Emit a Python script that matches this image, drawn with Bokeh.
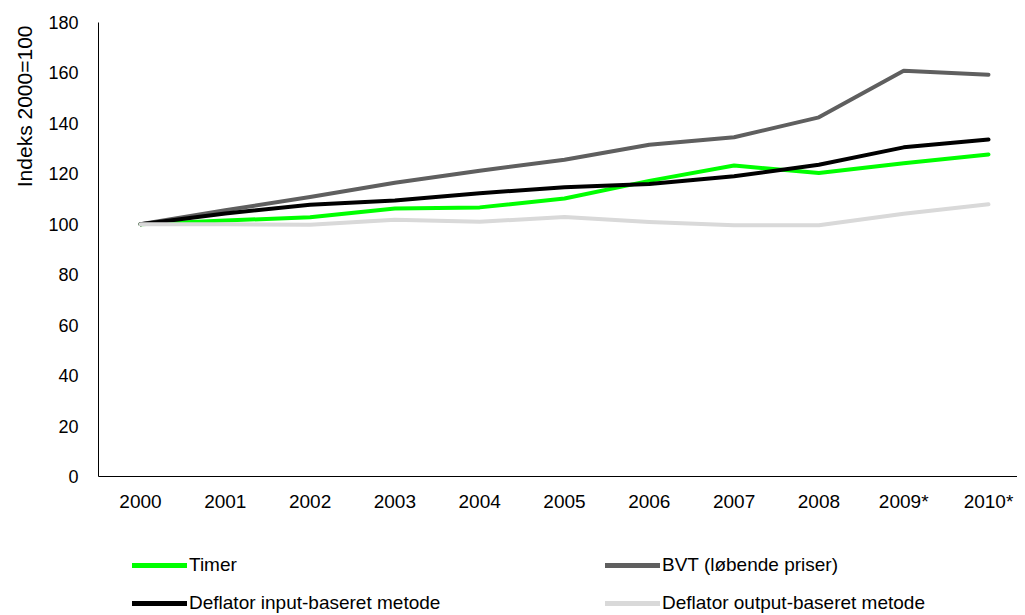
from bokeh.plotting import figure
from bokeh.models import (Range1d, FixedTicker, Legend, LegendItem, Title)
from bokeh.layouts import column
from bokeh.embed import file_html
from bokeh.resources import INLINE

years = ["2000", "2001", "2002", "2003", "2004", "2005", "2006", "2007", "2008", "2009*", "2010*"]
timer = [100, 101.5, 102.8, 106.3, 106.7, 110.2, 117.2, 123.3, 120.3, 124.2, 127.7]
bvt = [100, 105.6, 110.8, 116.5, 121.2, 125.6, 131.5, 134.5, 142.4, 160.9, 159.3]
defl_input = [100, 104.3, 107.7, 109.4, 112.3, 114.7, 116.0, 119.0, 123.6, 130.5, 133.6]
defl_output = [100, 100.0, 99.8, 101.8, 101.0, 102.9, 100.9, 99.6, 99.6, 104.2, 107.9]
series_names = ["Timer", "BVT (løbende priser)", "Deflator input-baseret metode", "Deflator output-baseret metode"]
colors = ["#00ff00", "#5f5f5f", "#000000", "#d9d9d9"]
y_ticks = [0, 20, 40, 60, 80, 100, 120, 140, 160, 180]

FONT = "Liberation Sans"
xs = list(range(len(years)))
W = 1017

p = figure(width=W, height=514, output_backend="svg", toolbar_location=None,
           x_range=Range1d(-0.495, 10.342), y_range=Range1d(0, 180),
           min_border_left=98, min_border_right=0, min_border_top=22, min_border_bottom=38)
p.outline_line_color = None
p.xgrid.visible = False
p.ygrid.visible = False
p.background_fill_color = "white"
p.border_fill_color = "white"

for vals, c in zip([timer, bvt, defl_input, defl_output], colors):
    p.line(xs, vals, line_color=c, line_width=4, line_cap="round", line_join="round")

# axes
p.xaxis.ticker = FixedTicker(ticks=xs)
p.xaxis.major_label_overrides = {i: y for i, y in enumerate(years)}
p.xaxis.major_tick_line_color = None
p.xaxis.minor_tick_line_color = None
p.xaxis.axis_line_color = "black"
p.xaxis.axis_line_width = 1
p.xaxis.major_label_text_font = FONT
p.xaxis.major_label_text_font_size = "19px"
p.xaxis.major_label_text_color = "black"
p.xaxis.major_label_standoff = 8

p.yaxis.ticker = FixedTicker(ticks=y_ticks)
p.yaxis.major_tick_line_color = None
p.yaxis.minor_tick_line_color = None
p.yaxis.axis_line_color = "black"
p.yaxis.axis_line_width = 1
p.yaxis.major_label_text_font = FONT
p.yaxis.major_label_text_font_size = "18px"
p.yaxis.major_label_text_color = "black"
p.yaxis.major_label_standoff = 14

ytitle = Title(text="Indeks 2000=100", align="right", text_font=FONT,
               text_font_size="21px", text_font_style="normal", text_color="black",
               offset=3, standoff=20)
p.add_layout(ytitle, "left")

# legend figure (frame is aligned with the chart frame by the column layout)
q = figure(width=W, height=101, output_backend="svg", toolbar_location=None,
           x_range=Range1d(0, 1), y_range=Range1d(0, 1),
           min_border_left=98, min_border_right=0, min_border_top=0, min_border_bottom=0)
q.axis.visible = False
q.grid.visible = False
q.outline_line_color = None
q.background_fill_color = "white"
q.border_fill_color = "white"

leg_renderers = [q.line([-10, -9], [-10, -9], line_color=c, line_width=5, line_cap="round")
                 for c in colors]

def make_legend(idx, x, y):
    return Legend(items=[LegendItem(label=series_names[i], renderers=[leg_renderers[i]]) for i in idx],
                  location=(x, y), orientation="vertical",
                  label_text_font=FONT, label_text_font_size="19px", label_text_color="black",
                  label_text_font_style="normal",
                  glyph_width=55, glyph_height=22, label_height=22, label_standoff=2,
                  spacing=16, padding=0, margin=0, border_line_color=None,
                  background_fill_alpha=0)

q.add_layout(make_legend([0, 2], 34, 1), "center")
q.add_layout(make_legend([1, 3], 507, 1), "center")

layout = column(p, q, spacing=0)
open("out.html", "w").write(file_html(layout, INLINE))
